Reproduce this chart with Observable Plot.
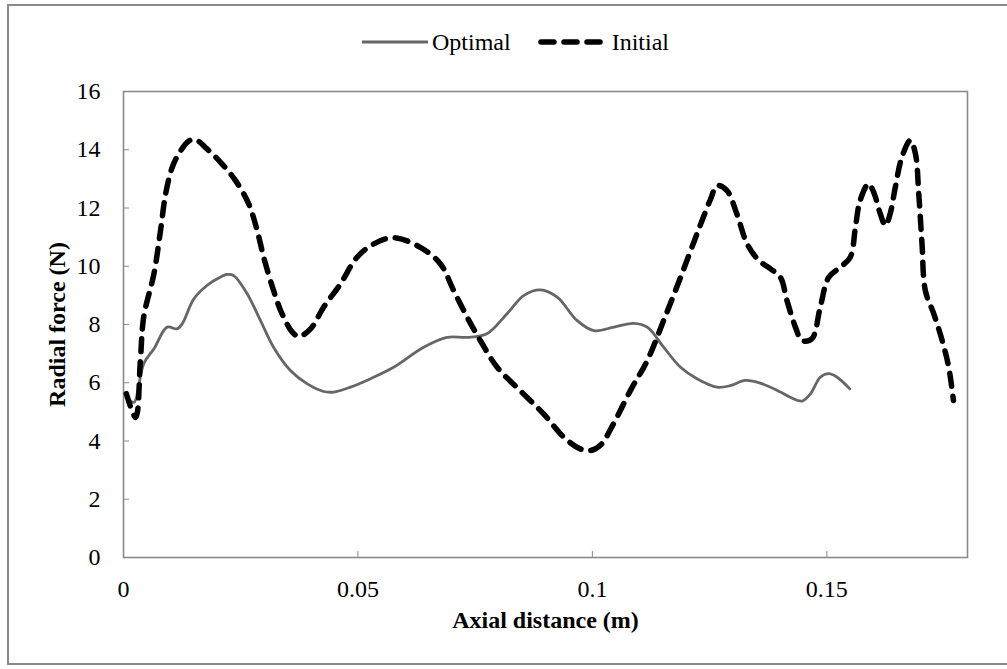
<!DOCTYPE html>
<html>
<head>
<meta charset="utf-8">
<script src="https://cdn.jsdelivr.net/npm/d3@7"></script>
<script src="https://cdn.jsdelivr.net/npm/@observablehq/plot@0.6"></script>
<style>
  html, body { margin: 0; padding: 0; background: #fff; }
  #page { position: relative; width: 1007px; height: 669px; overflow: hidden; background: #fff;
          font-family: "Liberation Serif", "Times New Roman", serif; }
  #border { position: absolute; left: 7px; top: 4px; width: 1020px; height: 661px;
            border: 2px solid #8a8a8a; box-sizing: border-box; }
  #legend { position: absolute; left: 362px; top: 26px; height: 32px; display: flex; align-items: center;
            font-size: 24px; color: #000; white-space: nowrap; }
  #legend svg { display: block; }
  #chart { position: absolute; left: 0; top: 60px; }
</style>
</head>
<body>
<div id="page">
  <div id="border"></div>
  <div id="legend"></div>
  <div id="chart"></div>
</div>
<script>
// ---- data ----
const seriesNames = ["Optimal", "Initial"];

const optimalX = [0.0008, 0.0022, 0.0043, 0.0065, 0.0093, 0.0114, 0.0125, 0.015, 0.0178, 0.02, 0.0221, 0.0235, 0.0264, 0.0292, 0.032, 0.0356, 0.0392, 0.0427, 0.0448, 0.0484, 0.0527, 0.0576, 0.064, 0.069, 0.0733, 0.0775, 0.0818, 0.0854, 0.0889, 0.0925, 0.0967, 0.1003, 0.1046, 0.1088, 0.1117, 0.1152, 0.1188, 0.1223, 0.1266, 0.1294, 0.1326, 0.1358, 0.1401, 0.1422, 0.1447, 0.1465, 0.1486, 0.1504, 0.1522, 0.1549];
const optimalY = [5.5, 5.33, 6.65, 7.17, 7.91, 7.85, 8.02, 8.88, 9.34, 9.57, 9.72, 9.68, 9.05, 8.14, 7.22, 6.42, 5.96, 5.7, 5.68, 5.85, 6.14, 6.53, 7.22, 7.56, 7.56, 7.68, 8.37, 9.0, 9.19, 8.94, 8.14, 7.79, 7.91, 8.04, 7.91, 7.22, 6.53, 6.14, 5.85, 5.9, 6.08, 5.99, 5.68, 5.5, 5.37, 5.62, 6.19, 6.31, 6.19, 5.79];

const initialX = [0.0006, 0.0026, 0.0036, 0.0043, 0.0065, 0.0079, 0.009, 0.0104, 0.0122, 0.0139, 0.0154, 0.0178, 0.0207, 0.0239, 0.0267, 0.0285, 0.0299, 0.032, 0.0338, 0.036, 0.0374, 0.0399, 0.0427, 0.0463, 0.0498, 0.0534, 0.0576, 0.0633, 0.0676, 0.0704, 0.0733, 0.0761, 0.0797, 0.0846, 0.0896, 0.0939, 0.0974, 0.0996, 0.1017, 0.1045, 0.1081, 0.1117, 0.1152, 0.1188, 0.1223, 0.1252, 0.1266, 0.1287, 0.1308, 0.133, 0.1355, 0.138, 0.1401, 0.1415, 0.1433, 0.1447, 0.1468, 0.1486, 0.1504, 0.1529, 0.155, 0.1561, 0.1571, 0.1589, 0.16, 0.1614, 0.1625, 0.1635, 0.1646, 0.166, 0.1678, 0.1689, 0.1696, 0.1703, 0.171, 0.1728, 0.1746, 0.176, 0.177];
const initialY = [5.63, 4.81, 6.76, 8.25, 9.75, 11.23, 12.5, 13.4, 13.97, 14.3, 14.34, 14.03, 13.57, 12.94, 12.14, 11.23, 10.31, 9.17, 8.37, 7.74, 7.59, 7.85, 8.6, 9.4, 10.31, 10.77, 10.98, 10.65, 10.08, 9.17, 8.25, 7.45, 6.53, 5.73, 4.93, 4.13, 3.73, 3.67, 3.85, 4.59, 5.73, 6.76, 8.14, 9.62, 11.11, 12.3, 12.77, 12.6, 11.8, 10.77, 10.2, 9.91, 9.62, 8.82, 7.91, 7.45, 7.51, 8.6, 9.62, 9.97, 10.31, 11.34, 12.26, 12.83, 12.54, 11.8, 11.4, 11.8, 12.71, 13.74, 14.32, 13.86, 12.49, 10.77, 9.17, 8.37, 7.45, 6.53, 5.39];

const xTicks = [0, 0.05, 0.1, 0.15];
const xTickLabels = ["0", "0.05", "0.1", "0.15"];
const yTicks = [0, 2, 4, 6, 8, 10, 12, 14, 16];
const xTitle = "Axial distance (m)";
const yTitle = "Radial force (N)";

// ---- build tables ----
const optimal = optimalX.map((x, i) => ({x, y: optimalY[i]}));
const initial = initialX.map((x, i) => ({x, y: initialY[i]}));

const FONT = "Liberation Serif, Times New Roman, serif";
const axisGray = "#8a8a8a";
const optColor = "#666666";

const chart = Plot.plot({
  width: 1007,
  height: 609,
  marginLeft: 123,
  marginRight: 40,
  marginTop: 31,
  marginBottom: 112,
  style: {fontFamily: FONT, fontSize: "24px", color: "#000", background: "transparent", overflow: "visible"},
  x: {domain: [0, 0.18]},
  y: {domain: [0, 16]},
  marks: [
    Plot.frame({stroke: axisGray, strokeWidth: 1.6}),
    // inward tick marks
    Plot.axisY(yTicks, {tickSize: -6, stroke: axisGray, tickFormat: () => "", label: null}),
    Plot.axisX(xTicks, {tickSize: -6, stroke: axisGray, tickFormat: () => "", label: null}),
    // tick labels
    Plot.axisY(yTicks, {tickSize: 0, tickPadding: 23, fontSize: 24, fill: "#000", label: null}),
    Plot.axisX(xTicks, {tickSize: 0, tickPadding: 22, fontSize: 24, fill: "#000", label: null,
      tickFormat: (d) => xTickLabels[xTicks.indexOf(d)]}),
    // axis titles
    Plot.text([yTitle], {frameAnchor: "left", dx: -66, rotate: -90, textAnchor: "middle", lineAnchor: "middle",
      fontSize: 24, fontWeight: "bold", fill: "#000"}),
    Plot.text([xTitle], {frameAnchor: "bottom", dy: 63, textAnchor: "middle", lineAnchor: "middle",
      fontSize: 24, fontWeight: "bold", fill: "#000"}),
    // series
    Plot.line(optimal, {x: "x", y: "y", curve: "catmull-rom", stroke: optColor, strokeWidth: 2.8}),
    Plot.line(initial, {x: "x", y: "y", curve: "catmull-rom", stroke: "#000", strokeWidth: 5.5,
      strokeDasharray: "13,10", strokeLinecap: "round", strokeLinejoin: "round"})
  ]
});
document.getElementById("chart").appendChild(chart);

// ---- legend ----
const legend = document.getElementById("legend");
function swatch(w, stroke, sw, dash) {
  const ns = "http://www.w3.org/2000/svg";
  const s = document.createElementNS(ns, "svg");
  s.setAttribute("width", w); s.setAttribute("height", 12);
  const l = document.createElementNS(ns, "line");
  l.setAttribute("x1", dash ? 3 : 0); l.setAttribute("x2", dash ? w - 3 : w);
  l.setAttribute("y1", 6); l.setAttribute("y2", 6);
  l.setAttribute("stroke", stroke); l.setAttribute("stroke-width", sw);
  if (dash) { l.setAttribute("stroke-dasharray", dash); l.setAttribute("stroke-linecap", "round"); }
  s.appendChild(l);
  return s;
}
const items = [
  {name: seriesNames[0], sw: swatch(66, optColor, 2.8, null)},
  {name: seriesNames[1], sw: swatch(70, "#000", 5.5, "13,10")}
];
items.forEach((it, i) => {
  const wrap = document.createElement("div");
  wrap.style.display = "flex"; wrap.style.alignItems = "center";
  if (i > 0) wrap.style.marginLeft = "27px";
  wrap.appendChild(it.sw);
  const t = document.createElement("span");
  t.textContent = it.name; t.style.marginLeft = "4px"; t.style.lineHeight = "32px";
  wrap.appendChild(t);
  legend.appendChild(wrap);
});
</script>
</body>
</html>
